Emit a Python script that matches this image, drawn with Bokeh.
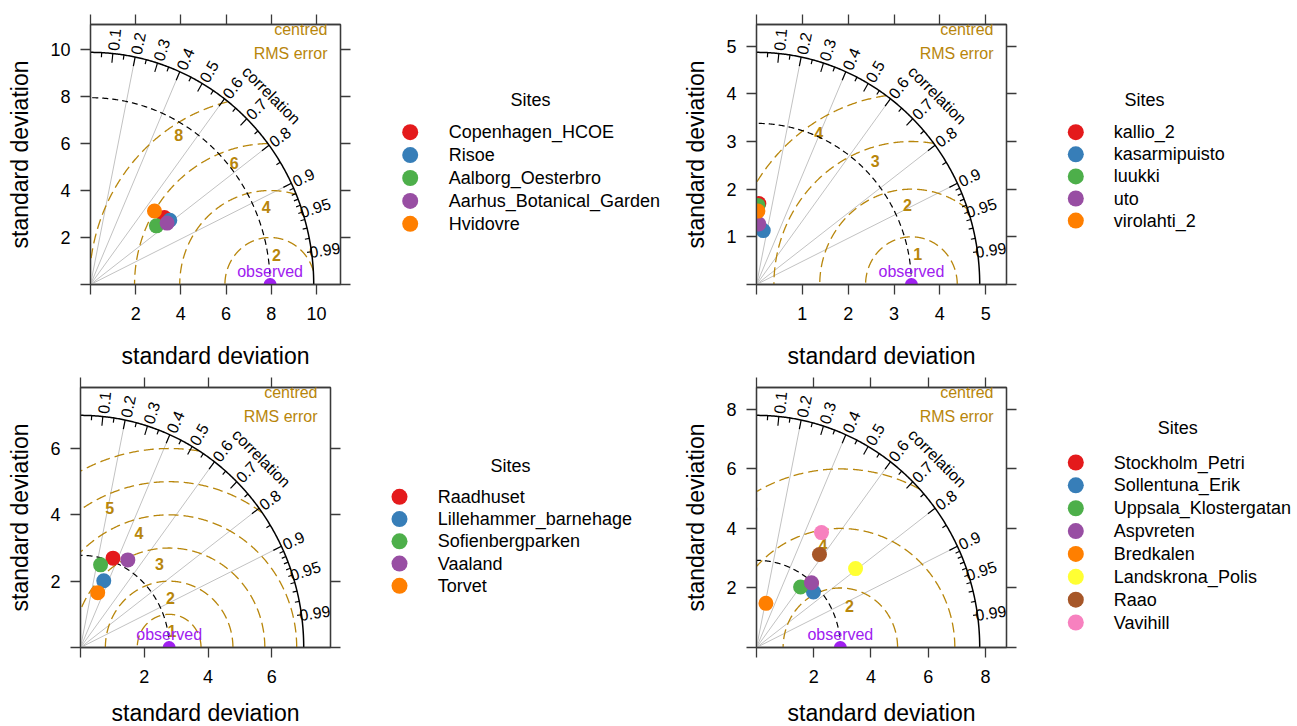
import numpy as np
from bokeh.plotting import figure
from bokeh.models import Range1d, FixedTicker, LinearAxis, Label
from bokeh.layouts import row, column
from bokeh.embed import file_html
from bokeh.resources import INLINE
from bokeh.core.properties import value

FONT = "Liberation Sans"
AXC = "#3a3a3a"
RMS_C = "#B8860B"
GRID_C = "#C2C2C2"
OBS_C = "#A020F0"
SET1 = ["#E41A1C", "#377EB8", "#4DAF4A", "#984EA3", "#FF7F00", "#FFFF33", "#A65628", "#F781BF"]

# ---------------- data ----------------
sites_a = ["Copenhagen_HCOE", "Risoe", "Aalborg_Oesterbro", "Aarhus_Botanical_Garden", "Hvidovre"]
sd_a = [4.34, 4.45, 3.84, 4.28, 4.22]
cor_a = [0.754, 0.789, 0.760, 0.792, 0.671]
obs_sd_a = 7.95
max_sd_a = 9.88
ticks_a = [0, 2, 4, 6, 8, 10]
rms_a = [2, 4, 6, 8]

sites_b = ["kallio_2", "kasarmipuisto", "luukki", "uto", "virolahti_2"]
sd_b = [1.70, 1.14, 1.66, 1.27, 1.54]
cor_b = [0.03, 0.13, 0.02, 0.04, 0.02]
obs_sd_b = 3.38
max_sd_b = 4.87
ticks_b = [0, 1, 2, 3, 4, 5]
rms_b = [1, 2, 3, 4]

sites_c = ["Raadhuset", "Lillehammer_barnehage", "Sofienbergparken", "Vaaland", "Torvet"]
sd_c = [2.88, 2.14, 2.57, 3.03, 1.74]
cor_c = [0.354, 0.341, 0.245, 0.490, 0.310]
obs_sd_c = 2.78
max_sd_c = 7.0
ticks_c = [0, 2, 4, 6]
rms_c = [1, 2, 3, 4, 5, 6]

sites_d = ["Stockholm_Petri", "Sollentuna_Erik", "Uppsala_Klostergatan", "Aspvreten",
           "Bredkalen", "Landskrona_Polis", "Raao", "Vavihill"]
sd_d = [2.88, 2.73, 2.55, 2.90, 1.52, 4.36, 3.82, 4.48]
cor_d = [0.665, 0.729, 0.604, 0.662, 0.217, 0.794, 0.576, 0.507]
obs_sd_d = 2.93
max_sd_d = 7.8
ticks_d = [0, 2, 4, 6, 8]
rms_d = [2, 4, 6]

corr_labels = [0.1, 0.2, 0.3, 0.4, 0.5, 0.6, 0.7, 0.8, 0.9, 0.95, 0.99]
corr_grid = [0.2, 0.4, 0.6, 0.8, 0.9]
corr_big = [0.1, 0.2, 0.3, 0.4, 0.5, 0.6, 0.7, 0.8, 0.9]
corr_med = [0.05, 0.15, 0.25, 0.35, 0.45, 0.55, 0.65, 0.75, 0.85, 0.95]
corr_small = [0.91, 0.92, 0.93, 0.94, 0.96, 0.97, 0.98, 0.99]

FW, FH = 250, 260


def style_axis(ax, ticks, labels=True, standoff=10, title_standoff=14):
    ax.ticker = FixedTicker(ticks=ticks, minor_ticks=[])
    ax.major_tick_out = 10
    ax.major_tick_in = 0
    ax.minor_tick_out = 0
    ax.minor_tick_in = 0
    ax.axis_line_color = AXC
    ax.major_tick_line_color = AXC
    ax.axis_line_width = 1.3
    ax.major_tick_line_width = 1.3
    ax.major_label_text_font = FONT
    ax.major_label_text_color = "black"
    if labels:
        ax.major_label_text_font_size = "18px"
        ax.major_label_overrides = {0: ""}
        ax.major_label_standoff = standoff
        ax.axis_label_text_font = FONT
        ax.axis_label_text_font_size = "23px"
        ax.axis_label_text_font_style = "normal"
        ax.axis_label_text_color = "black"
        ax.axis_label_standoff = title_standoff
    else:
        ax.major_label_text_font_size = "0px"
        ax.major_label_overrides = {t: "" for t in ticks}
        ax.major_label_standoff = 0


def taylor_panel(tag, sd, cor, obs_sd, max_sd, ticks, rms, colors,
                 bl, br, bt, bb, tag_xy, bottom_title_standoff):
    lim = 1.12 * max_sd
    p = figure(frame_width=FW, frame_height=FH,
               x_range=Range1d(0, lim), y_range=Range1d(0, lim),
               min_border_left=bl, min_border_right=br, min_border_top=bt, min_border_bottom=bb,
               output_backend="svg", toolbar_location=None,
               x_axis_label="standard deviation", y_axis_label="standard deviation")
    p.grid.visible = False
    p.outline_line_color = AXC
    p.outline_line_width = 1.3
    style_axis(p.xaxis[0], ticks, True, standoff=12, title_standoff=bottom_title_standoff)
    style_axis(p.yaxis[0], ticks, True, standoff=10, title_standoff=14)
    top_ax = LinearAxis()
    style_axis(top_ax, ticks, False)
    p.add_layout(top_ax, "above")
    right_ax = LinearAxis()
    style_axis(right_ax, ticks, False)
    p.add_layout(right_ax, "right")

    # correlation grid lines
    cg = np.array(corr_grid)
    p.segment(x0=np.zeros(len(cg)), y0=np.zeros(len(cg)),
              x1=max_sd * cg, y1=max_sd * np.sqrt(1 - cg ** 2),
              line_color=GRID_C, line_width=1)

    # centred RMS arcs
    ang = np.linspace(0, np.pi, 600)
    n = len(rms)
    labelpos = np.floor(np.linspace(45, 70, n)).astype(int)
    for g in rms:
        xs = obs_sd + g * np.cos(ang)
        ys = g * np.sin(ang)
        inside = (xs ** 2 + ys ** 2 <= max_sd ** 2) & (xs >= 0)
        p.line(np.where(inside, xs, np.nan), np.where(inside, ys, np.nan),
               line_color=RMS_C, line_width=1.3, line_dash="10 5")
    la = (labelpos - 1) * 0.03
    lx = obs_sd + np.array(rms) * np.cos(la)
    ly = np.array(rms) * np.sin(la)
    keep = lx > 0
    p.text(x=lx[keep], y=ly[keep], text=[str(g) for g, k in zip(rms, keep) if k],
           text_font=value(FONT), text_font_size="16px", text_font_style="bold",
           text_color=RMS_C, text_align="center", text_baseline="middle",
           x_offset=-5, y_offset=16)

    # outer arc and observed sd arc
    th = np.linspace(0, np.pi / 2, 300)
    p.line(max_sd * np.cos(th), max_sd * np.sin(th), line_color="black", line_width=1.5)
    p.line(obs_sd * np.cos(th), obs_sd * np.sin(th), line_color="black", line_width=1.2,
           line_dash="6 4")

    # correlation ticks
    for vals, frac in ((corr_big, 0.96), (corr_med, 0.98), (corr_small, 0.98)):
        a = np.arccos(np.array(vals))
        p.segment(x0=max_sd * np.cos(a), y0=max_sd * np.sin(a),
                  x1=frac * max_sd * np.cos(a), y1=frac * max_sd * np.sin(a),
                  line_color="black", line_width=1.2)

    # correlation labels
    ca = np.arccos(np.array(corr_labels))
    p.text(x=1.06 * max_sd * np.cos(ca), y=1.06 * max_sd * np.sin(ca),
           text=[str(c) for c in corr_labels], angle=ca,
           text_font=value(FONT), text_font_size="16px", text_color="black",
           text_align="center", text_baseline="middle")
    p.text(x=[0.81 * max_sd], y=[0.815 * max_sd], text=["correlation"], angle=-np.pi / 4,
           text_font=value(FONT), text_font_size="16px", text_color="black",
           text_align="center", text_baseline="middle")

    # observed
    p.scatter(x=[obs_sd], y=[0], size=13, fill_color=OBS_C, line_color=None)
    p.text(x=[obs_sd], y=[0.055 * max_sd], text=["observed"],
           text_font=value(FONT), text_font_size="16px", text_color=OBS_C,
           text_align="center", text_baseline="middle")

    # model points
    sd_arr = np.array(sd)
    cor_arr = np.array(cor)
    p.scatter(x=sd_arr * cor_arr, y=sd_arr * np.sqrt(1 - cor_arr ** 2), size=15,
              fill_color=colors[:len(sd)], line_color=None)

    # annotations
    p.add_layout(Label(x=237, y=255, x_units="screen", y_units="screen", text="centred",
                       text_font=FONT, text_font_size="16px", text_color=RMS_C,
                       text_align="right", text_baseline="middle"))
    p.add_layout(Label(x=237, y=231, x_units="screen", y_units="screen", text="RMS error",
                       text_font=FONT, text_font_size="16px", text_color=RMS_C,
                       text_align="right", text_baseline="middle"))
    p.add_layout(Label(x=tag_xy[0], y=tag_xy[1], x_units="screen", y_units="screen", text=tag,
                       text_font=FONT, text_font_size="17px", text_color="black",
                       text_align="center", text_baseline="middle"))
    return p


def legend_fig(sites, colors, width, bt, bb, mx, tx, y0, dy, title_x, title_y):
    # same vertical structure as the Taylor panels; data units = pixels inside the frame
    lf = figure(frame_width=width, frame_height=FH,
                x_range=Range1d(0, width), y_range=Range1d(FH, 0),
                x_axis_type=None, y_axis_type=None,
                min_border_left=0, min_border_right=0, min_border_top=bt, min_border_bottom=bb,
                outline_line_color=None, output_backend="svg", toolbar_location=None)
    lf.grid.visible = False
    n = len(sites)
    ys = [y0 + i * dy for i in range(n)]
    lf.scatter(x=[mx] * n, y=ys, size=16, fill_color=colors[:n], line_color=None)
    lf.text(x=[tx] * n, y=ys, text=sites, text_font=value(FONT), text_font_size="18px",
            text_color="black", text_align="left", text_baseline="middle")
    lf.text(x=[title_x], y=[title_y], text=["Sites"], text_font=value(FONT), text_font_size="18px",
            text_color="black", text_align="center", text_baseline="middle")
    return lf


TOP1, BOT1 = 24, 85
TOP2, BOT2 = 16, 79

pa = taylor_panel("a)", sd_a, cor_a, obs_sd_a, max_sd_a, ticks_a, rms_a, SET1,
                  90, 40, TOP1, BOT1, (-65, 259), 20)
la = legend_fig(sites_a, SET1, 288, TOP1, BOT1, 29.7, 68.3, 107.7, 22.9, 150, 75.5)
pb = taylor_panel("b)", sd_b, cor_b, obs_sd_b, max_sd_b, ticks_b, rms_b, SET1,
                  88, 44, TOP1, BOT1, (-59, 262), 20)
lb = legend_fig(sites_b, SET1, 246, TOP1, BOT1, 25.3, 63.3, 107.7, 22.1, 94, 75.3)

pc = taylor_panel("c)", sd_c, cor_c, obs_sd_c, max_sd_c, ticks_c, rms_c, SET1,
                  80, 40, TOP2, BOT2, (-57, 247), 14)
lc = legend_fig(sites_c, SET1, 298, TOP2, BOT2, 29, 67.3, 109.3, 22.25, 140, 78.3)
pd_ = taylor_panel("d)", sd_d, cor_d, obs_sd_d, max_sd_d, ticks_d, rms_d, SET1,
                   88, 44, TOP2, BOT2, (-60, 263), 14)
ld = legend_fig(sites_d, SET1, 246, TOP2, BOT2, 25.3, 63.3, 75, 22.86, 127.3, 40.7)

layout = column(row(pa, la, pb, lb, spacing=0), row(pc, lc, pd_, ld, spacing=0), spacing=0)

open("out.html", "w").write(file_html(layout, INLINE))
